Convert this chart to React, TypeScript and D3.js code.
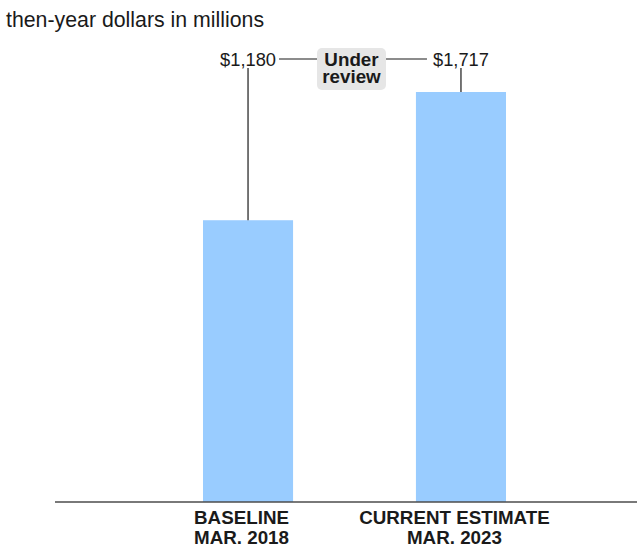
import React from "react";
import * as d3 from "d3";

const categories = ["BASELINE|MAR. 2018", "CURRENT ESTIMATE|MAR. 2023"];
const values = [1180, 1717];
const valueLabels = ["$1,180", "$1,717"];
const title = "then-year dollars in millions";
const statusLabel = ["Under", "review"];

const W = 637;
const H = 550;

export default function App() {
  const x = d3
    .scaleBand<string>()
    .domain(categories)
    .range([55, 654])
    .paddingInner(0.577)
    .paddingOuter(0.695);
  const y = d3.scaleLinear().domain([0, d3.max(values) as number]).range([502, 92]);

  const font = "Arial, 'Liberation Sans', Helvetica, sans-serif";
  const labelY = 66;
  const lineY = 59;
  const c0 = (x(categories[0]) as number) + x.bandwidth() / 2;
  const c1 = (x(categories[1]) as number) + x.bandwidth() / 2;
  const boxX0 = 317;
  const boxX1 = 386;

  return (
    <svg
      width={W}
      height={H}
      style={{ position: "absolute", left: 0, top: 0, fontFamily: font }}
    >
      <text x={6} y={26.5} fontSize={21.3} fill="#1a1a1a">
        {title}
      </text>
      {categories.map((c, i) => (
        <rect
          key={c}
          x={x(c)}
          y={y(values[i])}
          width={x.bandwidth()}
          height={y(0) - y(values[i])}
          fill="#99ccff"
        />
      ))}
      <line x1={55} x2={637} y1={y(0)} y2={y(0)} stroke="#4d4d4d" strokeWidth={1.5} />
      {categories.map((c, i) => {
        const cx = (x(c) as number) + x.bandwidth() / 2;
        return (
          <g key={"lbl" + c}>
            <line x1={cx} x2={cx} y1={68} y2={y(values[i])} stroke="#1a1a1a" strokeWidth={1.2} />
            <text x={cx} y={labelY} fontSize={18.3} textAnchor="middle" fill="#1a1a1a">
              {valueLabels[i]}
            </text>
            {c.split("|").map((t, j) => (
              <text
                key={j}
                x={cx - 6.5}
                y={523.5 + j * 20}
                fontSize={18.8}
                fontWeight="bold"
                textAnchor="middle"
                fill="#1a1a1a"
              >
                {t}
              </text>
            ))}
          </g>
        );
      })}
      <line x1={c0 + 31} x2={boxX0} y1={lineY} y2={lineY} stroke="#1a1a1a" strokeWidth={1.2} />
      <line x1={boxX1} x2={c1 - 34} y1={lineY} y2={lineY} stroke="#1a1a1a" strokeWidth={1.2} />
      <rect x={boxX0} y={48} width={boxX1 - boxX0} height={42} rx={5} fill="#e6e6e6" />
      {statusLabel.map((t, j) => (
        <text
          key={t}
          x={(boxX0 + boxX1) / 2}
          y={66 + j * 17}
          fontSize={18.8}
          fontWeight="bold"
          textAnchor="middle"
          fill="#1a1a1a"
        >
          {t}
        </text>
      ))}
    </svg>
  );
}
